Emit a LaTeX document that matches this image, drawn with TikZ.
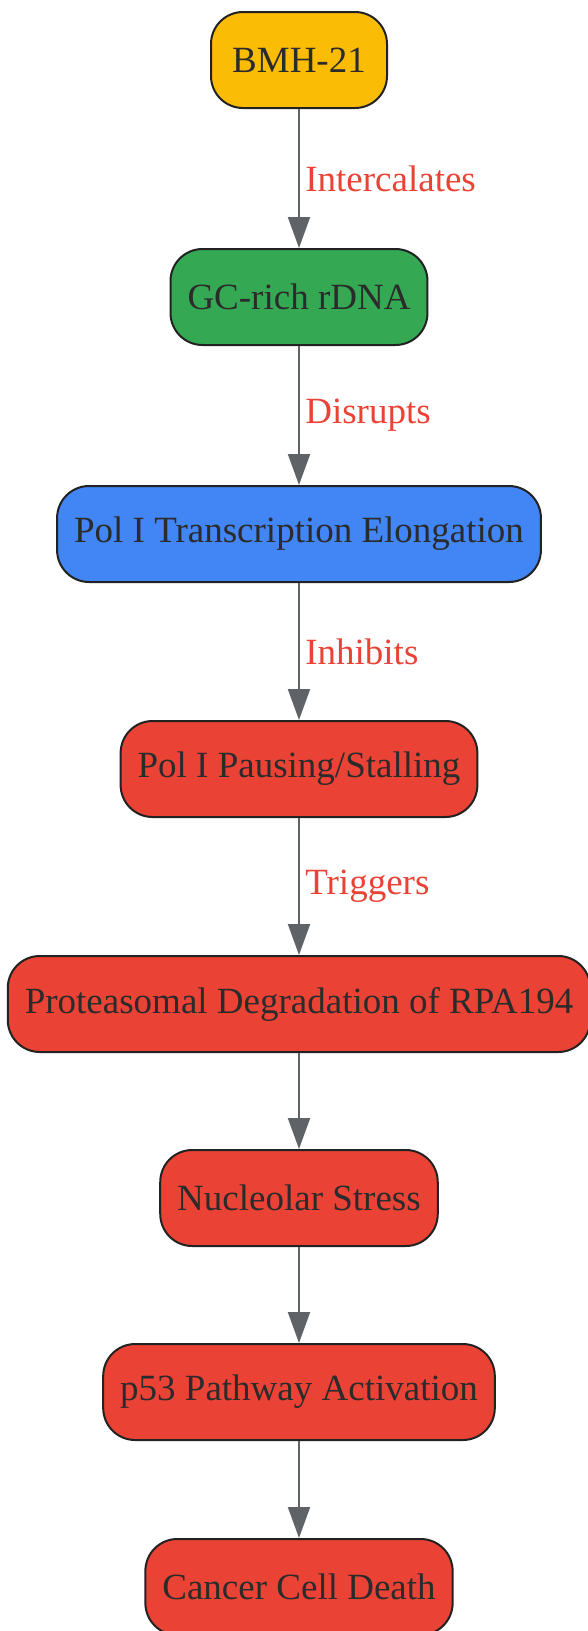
\documentclass[tikz,border=0pt]{standalone}
\usepackage{fontspec}
\setmainfont{Liberation Serif}
\usetikzlibrary{positioning,arrows.meta}

\definecolor{bmhyellow}{HTML}{FBBC05}
\definecolor{dnagreen}{HTML}{34A853}
\definecolor{polblue}{HTML}{4285F4}
\definecolor{stressred}{HTML}{EA4335}
\definecolor{boxline}{HTML}{222222}
\definecolor{textgray}{HTML}{2B2B2B}
\definecolor{linkgray}{HTML}{5F6368}

\begin{document}
\begin{tikzpicture}[x = 1pt, y = 1pt, > = {Triangle[width = 22pt, length = 31pt]},
	box/.style = {draw = boxline, line width = 2pt, rounded corners = 32pt,
		minimum height = 96pt, inner xsep = 17pt, text = textgray,
		font = \fontsize{37}{41}\selectfont},
	link/.style = {->, draw = linkgray, line width = 2pt},
	tag/.style = {midway, right = 2pt, text = stressred,
		font = \fontsize{37}{41}\selectfont}]

	\useasboundingbox (0, 0) rectangle (588, -1631);

	% Drug and target

	\node [box, fill = bmhyellow, anchor = north, minimum width = 176pt] (bmh) at (299, -11) {BMH-21};
	\node [box, fill = dnagreen, below = 139pt of bmh] (rdna) {GC-rich rDNA};

	% Pol I steps

	\node [box, fill = polblue, below = 139pt of rdna] (elong) {Pol I Transcription Elongation};
	\node [box, fill = stressred, below = 137pt of elong] (pause) {Pol I Pausing/Stalling};
	\node [box, fill = stressred, below = 137pt of pause] (degr) {Proteasomal Degradation of RPA194};

	% Cell response

	\node [box, fill = stressred, below = 96pt of degr] (stress) {Nucleolar Stress};
	\node [box, fill = stressred, below = 96pt of stress] (p53) {p53 Pathway Activation};
	\node [box, fill = stressred, below = 97pt of p53] (death) {Cancer Cell Death};

	% Links

	\draw [link] (bmh) -- node [tag] {Intercalates} (rdna);
	\draw [link] (rdna) -- node [tag] {Disrupts} (elong);
	\draw [link] (elong) -- node [tag] {Inhibits} (pause);
	\draw [link] (pause) -- node [tag] {Triggers} (degr);
	\draw [link] (degr) -- (stress);
	\draw [link] (stress) -- (p53);
	\draw [link] (p53) -- (death);

\end{tikzpicture}
\end{document}
